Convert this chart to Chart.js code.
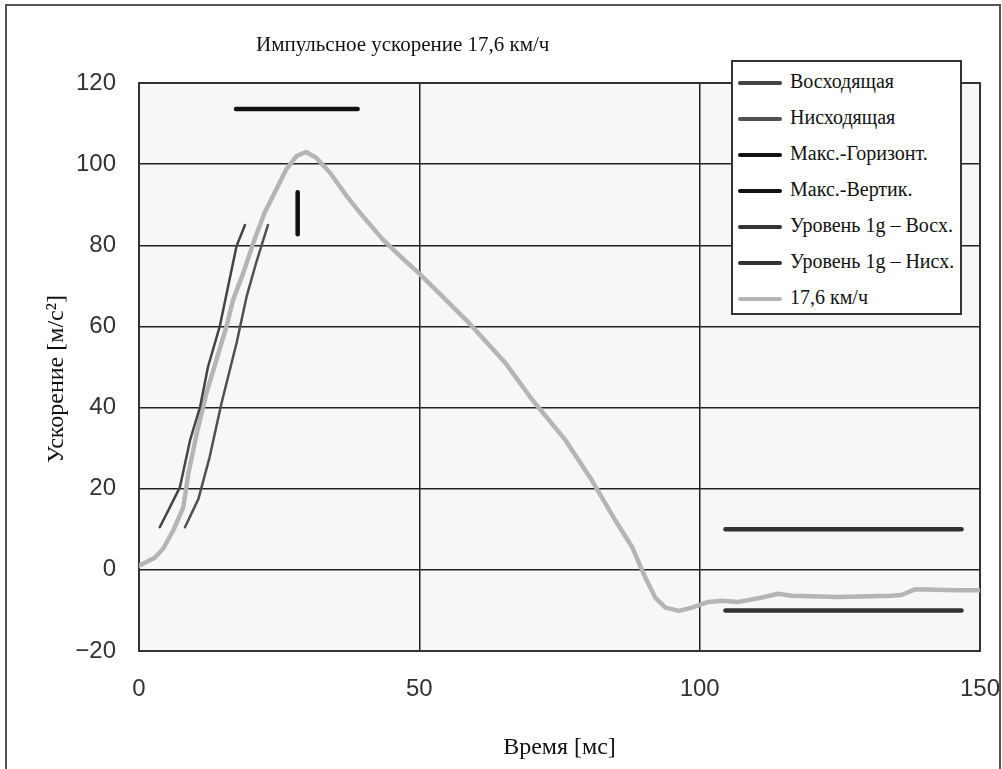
<!DOCTYPE html>
<html>
<head>
<meta charset="utf-8">
<script src="https://cdn.jsdelivr.net/npm/chart.js@4.4.1/dist/chart.umd.min.js"></script>
<style>
  body { margin: 0; background: #fff; }
  #wrap { position: relative; width: 1002px; height: 769px; overflow: hidden; }
  #title { position: absolute; left: 256px; top: 32px; white-space: nowrap;
           font: 21px 'Liberation Serif', serif; color: #111; }
  #legend { position: absolute; left: 731px; top: 60px; width: 227px; height: 243px;
            border: 2px solid #333; background: #fff; padding-top: 8px; box-sizing: content-box; }
  .row { height: 36px; line-height: 36px; font: 20px 'Liberation Serif', serif; color: #111; white-space: nowrap; }
  .row span.mark { display: inline-block; width: 44px; height: 4px; border-radius: 2px;
                   margin: 0 8px 0 5px; vertical-align: middle; }
</style>
</head>
<body>
<div id="wrap">
  <canvas id="chart" width="1002" height="769"></canvas>
  <div id="title">Импульсное ускорение 17,6 км/ч</div>
  <div id="legend"></div>
</div>
<script>
// ускорение 17,6 км/ч (кривая)
var time176 = [0, 2.8, 4.3, 6.1, 7.9, 8.8, 10.3, 12.0, 13.8, 15.6, 16.8, 18.6, 20.6, 22.4, 24.5, 26.3,
  28.1, 29.8, 31.6, 34.0, 37.0, 39.9, 43.5, 47.0, 50.0, 54.1, 58.9, 65.4, 70.2, 76.1, 80.8, 85.0,
  88.0, 90.3, 92.1, 93.9, 96.3, 98.6, 101.6, 104.0, 106.9, 110.5, 114.0, 116.4, 124.7, 134.2, 136.0,
  138.4, 146.0, 150.2];
var accel176 = [1, 3, 5.2, 9.7, 15.4, 23.7, 33.6, 43.5, 51.7, 60, 66.6, 73.2, 81.4, 88, 93.8, 98.8,
  102, 103, 101.6, 98, 92.2, 87.2, 81.4, 76.8, 73, 67.4, 60.8, 50.9, 41.8, 31.9, 22, 12.1,
  5.5, -1.9, -6.9, -9.3, -10.1, -9.3, -7.9, -7.6, -7.9, -7, -5.9, -6.4, -6.7, -6.4, -6.2,
  -4.8, -5, -5];

// восходящая / нисходящая
var timeUp = [3.7, 5.5, 7.3, 9.1, 10.9, 12.3, 14.4, 15.9, 17.4, 18.9];
var accelUp = [10.5, 15.4, 20.4, 31.9, 40.2, 50, 60, 69.9, 79.8, 85];
var timeDown = [8.2, 10.6, 12.6, 14.7, 17.4, 19.2, 20.9, 23.0];
var accelDown = [10.5, 17.5, 27.8, 41, 55.9, 67.4, 75.7, 85];

// максимумы
var timeMaxH = [17.3, 39];
var accelMaxH = [113.6, 113.6];
var timeMaxV = [28.3, 28.3];
var accelMaxV = [82.7, 93.1];

// уровни 1g
var time1g = [104.6, 146.7];
var level1gUp = [10, 10];
var level1gDown = [-10, -10];

var xTicks = [0, 50, 100, 150];
var yTicks = [-20, 0, 20, 40, 60, 80, 100, 120];

function pts(xs, ys) {
  return xs.map(function (x, i) { return { x: x, y: ys[i] }; });
}

function line(label, xs, ys, color, width) {
  return {
    label: label,
    data: pts(xs, ys),
    borderColor: color,
    backgroundColor: color,
    borderWidth: width,
    borderCapStyle: 'round',
    borderJoinStyle: 'round',
    pointRadius: 0,
    fill: false,
    tension: 0
  };
}

var framePlugin = {
  id: 'frame',
  beforeDraw: function (chart) {
    var a = chart.chartArea, c = chart.ctx;
    c.save();
    c.fillStyle = '#f7f7f7';
    c.fillRect(a.left, a.top, a.right - a.left, a.bottom - a.top);
    c.restore();
  },
  beforeDatasetsDraw: function (chart) {
    var a = chart.chartArea, c = chart.ctx;
    c.save();
    c.strokeStyle = '#333';
    c.lineWidth = 2;
    c.strokeRect(a.left, a.top, a.right - a.left, a.bottom - a.top);
    c.restore();
  },
  afterDraw: function (chart) {
    var c = chart.ctx;
    c.save();
    c.strokeStyle = '#555';
    c.lineWidth = 2;
    c.strokeRect(6, 5, 994, 800);
    c.restore();
  }
};

var tickFont = { family: "'Liberation Sans', Arial, sans-serif", size: 24 };
var axisTitleFont = { family: "'Liberation Serif', 'Times New Roman', serif", size: 24 };

var ctx = document.getElementById('chart');
var chart = new Chart(ctx, {
  type: 'line',
  data: {
    datasets: [
      line('Восходящая', timeUp, accelUp, '#444', 2.5),
      line('Нисходящая', timeDown, accelDown, '#505050', 2.5),
      line('Макс.-Горизонт.', timeMaxH, accelMaxH, '#111', 4.5),
      line('Макс.-Вертик.', timeMaxV, accelMaxV, '#111', 4.5),
      line('Уровень 1g – Восх.', time1g, level1gUp, '#333', 4.5),
      line('Уровень 1g – Нисх.', time1g, level1gDown, '#333', 4.5),
      line('17,6 км/ч', time176, accel176, '#b5b5b5', 4.5)
    ]
  },
  options: {
    responsive: false,
    animation: false,
    devicePixelRatio: 1,
    layout: { padding: { top: 83, right: 22, left: 0, bottom: 0 } },
    plugins: {
      legend: { display: false },
      tooltip: { enabled: false },
      title: { display: false }
    },
    scales: {
      x: {
        type: 'linear',
        min: 0,
        max: 150,
        afterBuildTicks: function (s) { s.ticks = xTicks.map(function (v) { return { value: v }; }); },
        afterFit: function (s) { s.height = 118; s.paddingLeft = 0; s.paddingRight = 0; },
        ticks: { font: tickFont, color: '#333', padding: 24, maxRotation: 0 },
        grid: { color: '#222', lineWidth: 1.5, drawTicks: false },
        border: { display: false },
        title: { display: true, text: 'Время [мс]', font: axisTitleFont, color: '#111',
                 padding: { top: 0, bottom: 7 } }
      },
      y: {
        type: 'linear',
        min: -20,
        max: 120,
        afterBuildTicks: function (s) { s.ticks = yTicks.map(function (v) { return { value: v }; }); },
        afterFit: function (s) { s.width = 139; s.paddingTop = 0; s.paddingBottom = 0; },
        ticks: {
          font: tickFont, color: '#333', padding: 23,
          callback: function (v) { return v < 0 ? '\u2212' + Math.abs(v) : String(v); }
        },
        grid: { color: '#222', lineWidth: 1.5, drawTicks: false },
        border: { display: false },
        title: { display: true, text: 'Ускорение [м/с²]    ', font: axisTitleFont, color: '#111',
                 padding: { top: 42, bottom: 0 } }
      }
    }
  },
  plugins: [framePlugin]
});

// легенда
var legend = document.getElementById('legend');
chart.data.datasets.forEach(function (ds) {
  var row = document.createElement('div');
  row.className = 'row';
  var mark = document.createElement('span');
  mark.className = 'mark';
  mark.style.background = ds.borderColor;
  row.appendChild(mark);
  row.appendChild(document.createTextNode(ds.label));
  legend.appendChild(row);
});
</script>
</body>
</html>
